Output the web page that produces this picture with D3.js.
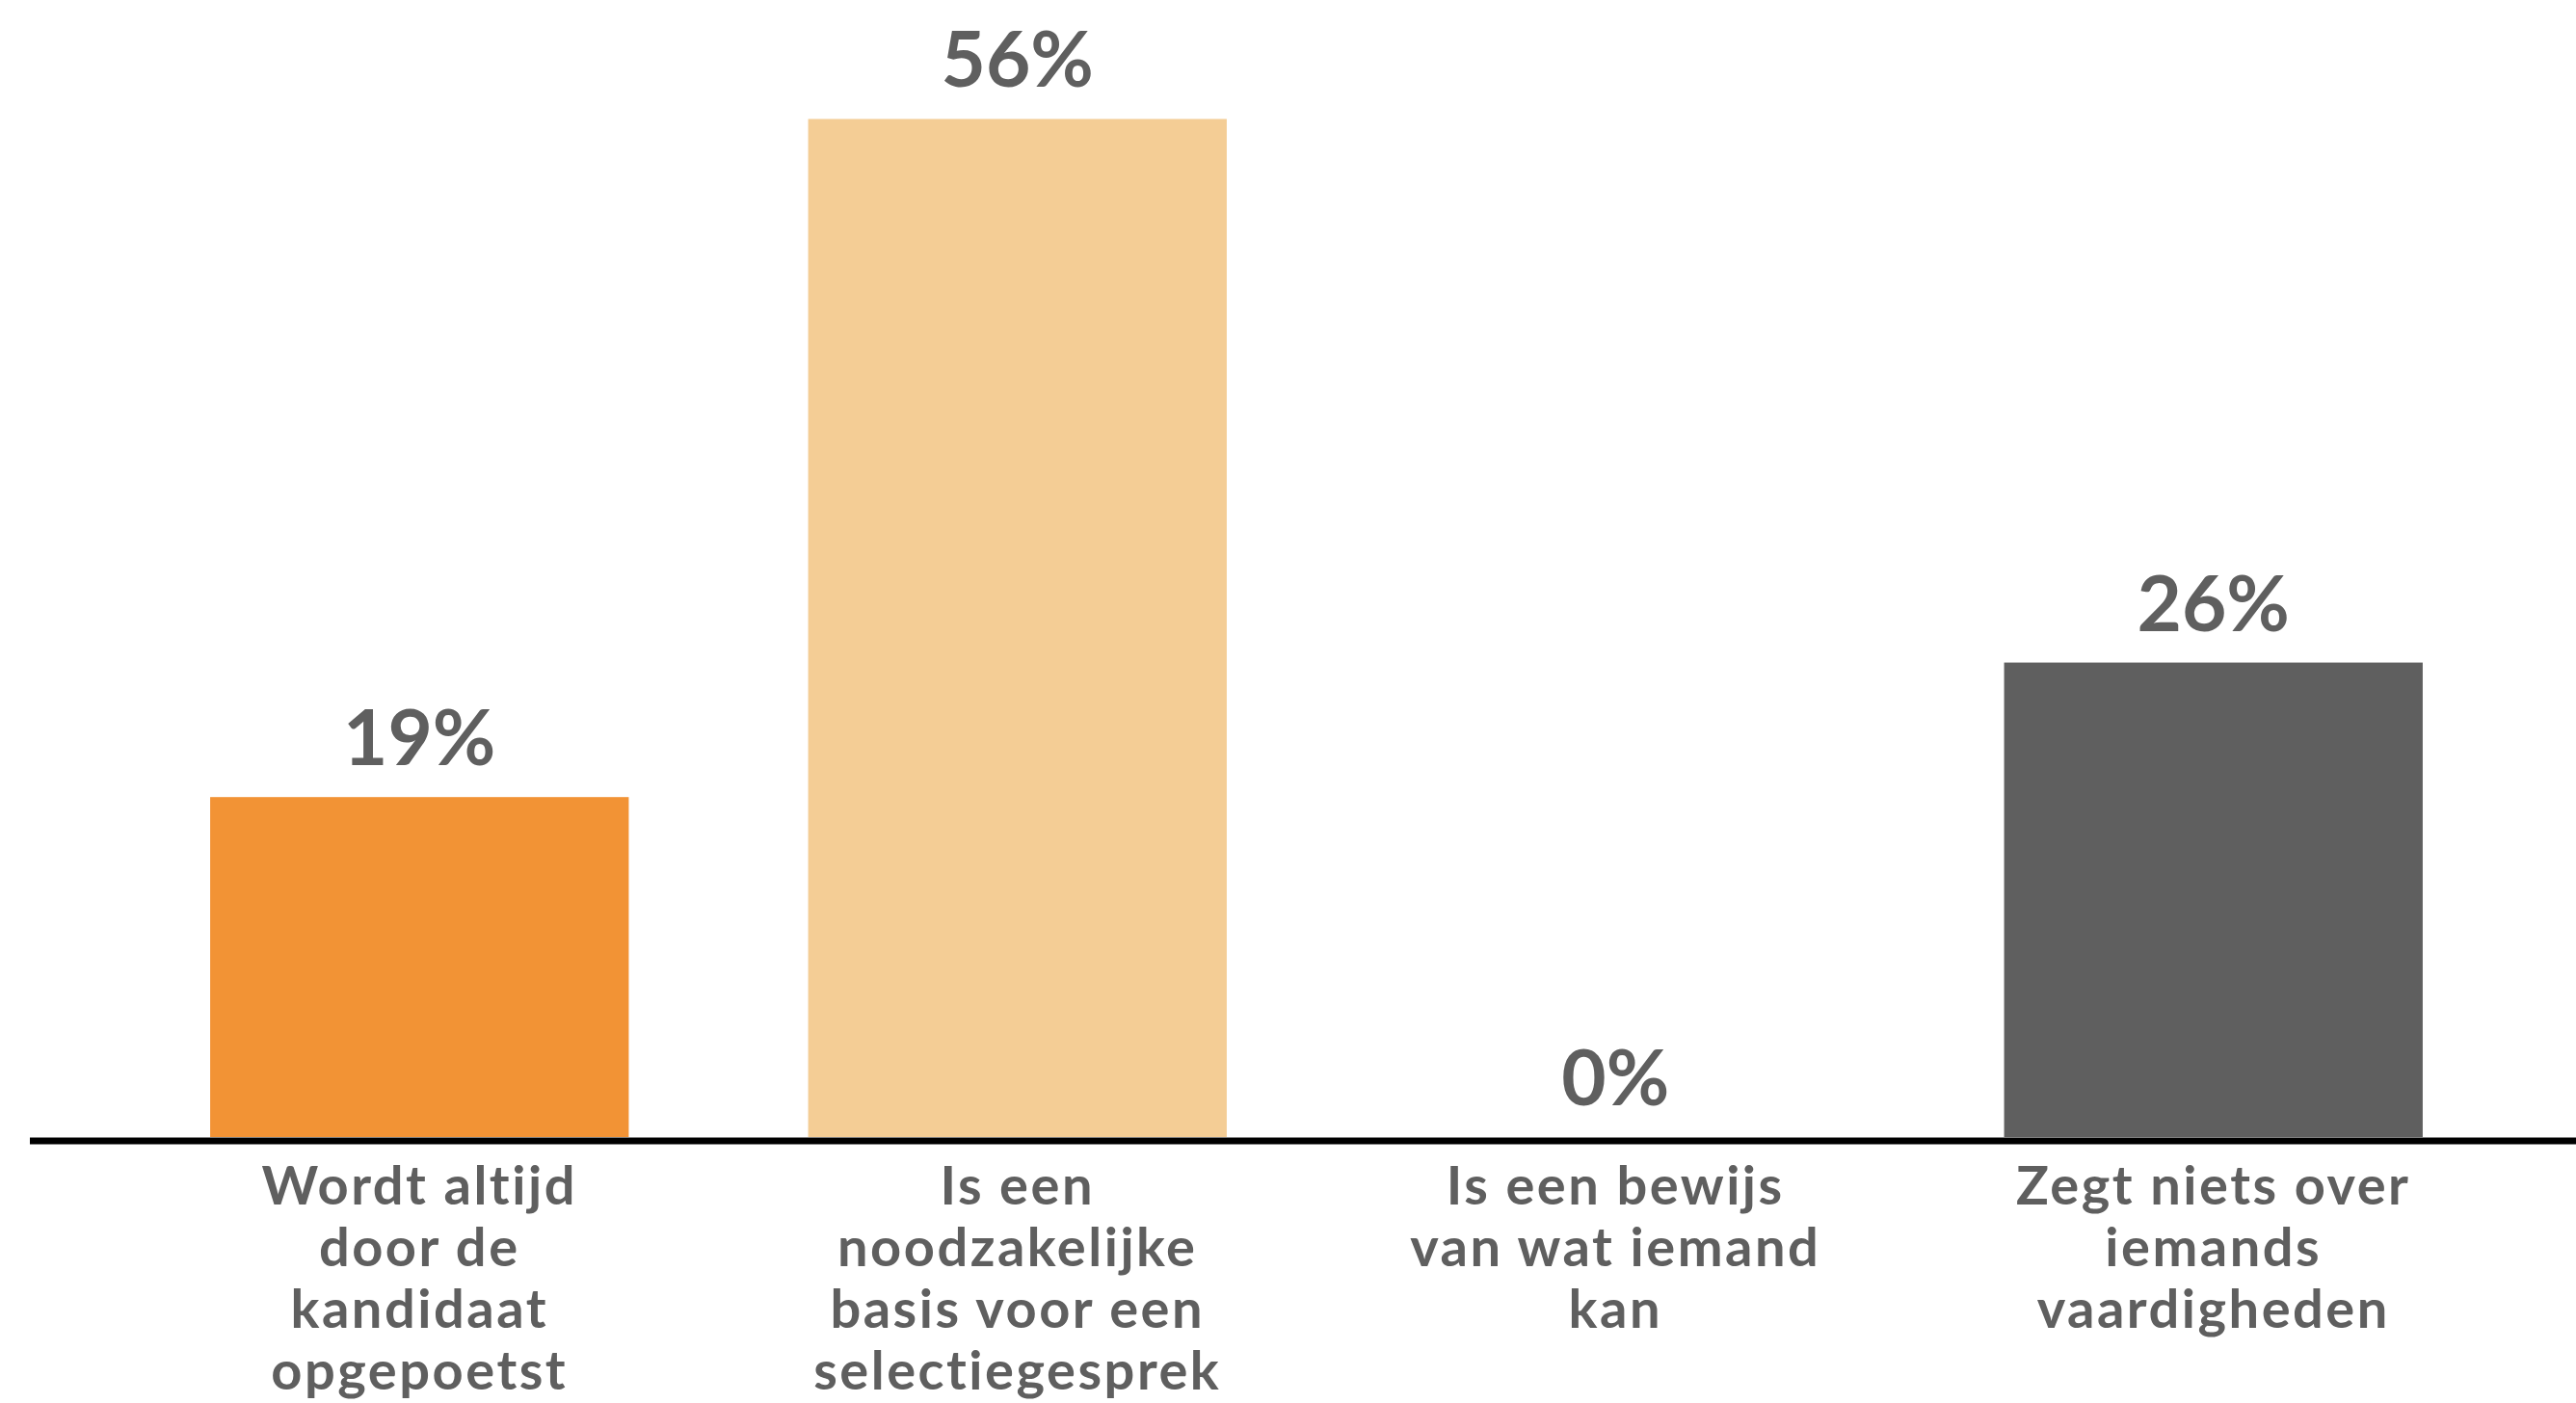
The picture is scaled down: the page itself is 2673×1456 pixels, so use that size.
<!DOCTYPE html>
<html><head><meta charset="utf-8">
<script src="https://cdn.jsdelivr.net/npm/d3@7"></script>
<style>html,body{margin:0;padding:0;background:#fff;}</style>
</head><body>
<svg id="chart" width="2673" height="1456"></svg>
<script>
const categories = ["c1","c2","c3","c4"];
const categoryLines = [
  ["Wordt altijd","door de","kandidaat","opgepoetst"],
  ["Is een","noodzakelijke","basis voor een","selectiegesprek"],
  ["Is een bewijs","van wat iemand","kan"],
  ["Zegt niets over","iemands","vaardigheden"]
];
const values = [18.7, 56, 0, 26.1];
const valueLabels = ["19%","56%","0%","26%"];
const colors = ["#F29335","#F4CD95","#F29335","#5F5F5F"];

const svg = d3.select("#chart");
const x = d3.scaleBand().domain(categories).range([125, 2607]).paddingInner(0.3).paddingOuter(0.15);
const y = d3.scaleLinear().domain([0, 60]).range([1180, 48]);

svg.selectAll("rect.bar").data(values).join("rect").attr("class","bar")
  .attr("x",(d,i)=>x(categories[i])).attr("width",x.bandwidth())
  .attr("y",d=>y(d)).attr("height",d=>y(0)-y(d))
  .attr("fill",(d,i)=>colors[i]);

svg.append("line").attr("x1",31).attr("x2",2673).attr("y1",1184).attr("y2",1184)
  .attr("stroke","#000").attr("stroke-width",7);

svg.selectAll("text.val").data(values).join("text").attr("class","val")
  .attr("x",(d,i)=>x(categories[i])+x.bandwidth()/2)
  .attr("y",d=>y(d)-33)
  .attr("text-anchor","middle")
  .attr("font-family","Lato, sans-serif").attr("font-weight",700)
  .attr("font-size",80).attr("fill","#5F5F5F")
  .text((d,i)=>valueLabels[i]);

categoryLines.forEach((lines,i)=>{
  const t = svg.append("text")
    .attr("x",x(categories[i])+x.bandwidth()/2)
    .attr("y",1250)
    .attr("text-anchor","middle")
    .attr("font-family","Lato, sans-serif").attr("font-weight",700)
    .attr("letter-spacing","2.5px")
    .attr("font-size",56).attr("fill","#5F5F5F");
  lines.forEach((l,j)=>{
    t.append("tspan").attr("x",x(categories[i])+x.bandwidth()/2).attr("y",1250+j*64).text(l);
  });
});
</script>
</body></html>
